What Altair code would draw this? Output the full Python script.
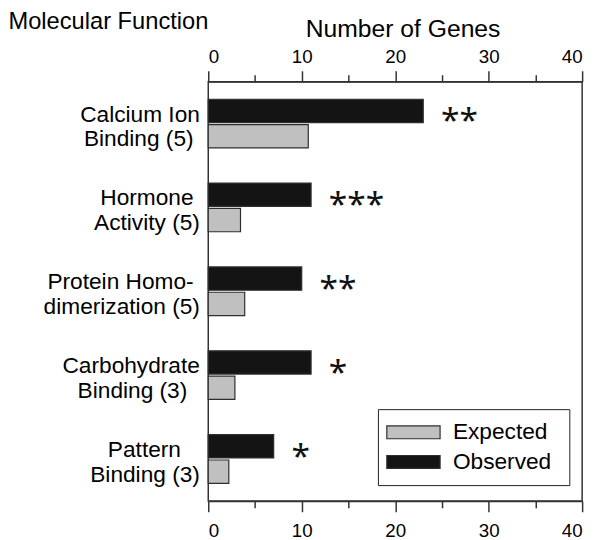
import json
import altair as alt
import pandas as pd

# ---- data ----
categories = [
    "Calcium Ion\nBinding (5)",
    "Hormone\nActivity (5)",
    "Protein Homo-\ndimerization (5)",
    "Carbohydrate\nBinding (3)",
    "Pattern\nBinding (3)",
]
observed = [23, 11, 10, 11, 7]
expected = [10.7, 3.45, 3.9, 2.85, 2.2]
stars = ["**", "***", "**", "*", "*"]
series_names = ["Expected", "Observed"]
x_ticks = [0, 5, 10, 15, 20, 25, 30, 35, 40]

rows = []
for c, o, e in zip(categories, observed, expected):
    rows.append({"category": c, "series": "Observed", "genes": o})
    rows.append({"category": c, "series": "Expected", "genes": e})
bars_df = pd.DataFrame(rows)
stars_df = pd.DataFrame({"category": categories, "genes": observed, "stars": stars})

LINE = "#333333"
FONT = "Liberation Sans"

# style only: no-break spaces (kept from trimming by a zero-width space) that
# centre the two lines of each label on each other
line_pad = [(0, 1), (1, 0), (1, 0), (0, 2), (3, 0)]
NB = "\u00a0"
ZW = "\u200b"
expr_parts = []
for cat, (p1, p2) in zip(categories, line_pad):
    l1, l2 = cat.split("\n")
    s1 = l1 + (NB * p1 + ZW if p1 else "")
    s2 = l2 + (NB * p2 + ZW if p2 else "")
    expr_parts.append(f"datum.label === {json.dumps(cat)} ? [{json.dumps(s1)}, {json.dumps(s2)}]")
y_label_expr = " : ".join(expr_parts) + " : split(datum.label, '\\n')"

x_scale = alt.Scale(domain=[0, 40], nice=False, zero=True)
y_scale = alt.Scale(paddingInner=0.42, paddingOuter=0.21)
off_scale = alt.Scale(domain=["Observed", "Expected"], paddingInner=0.08, paddingOuter=0)
tick_size = {"condition": {"test": "datum.value % 10 === 0", "value": 11}, "value": 7}
label_expr = "datum.value % 10 === 0 ? datum.label : ''"

y_enc = alt.Y(
    "category:N", sort=categories, scale=y_scale,
    axis=alt.Axis(
        title="Molecular Function", titleAngle=0, titleAlign="left",
        titleBaseline="alphabetic", titleX=-203, titleY=-54, titleFontSize=24,
        titleFontWeight="normal", titleColor="black",
        labelExpr=y_label_expr, labelFontSize=23, labelLineHeight=25,
        labelAlign="right", labelBaseline="middle", labelPadding=9, labelOffset=-9,
        labelColor="black", labelLimit=400, ticks=False, domain=False, grid=False,
    ),
)

bars = alt.Chart(bars_df).mark_bar(stroke="#2e2e2e", strokeWidth=1.2).encode(
    x=alt.X("genes:Q", scale=x_scale, axis=alt.Axis(
        orient="bottom", values=x_ticks, labelExpr=label_expr, tickSize=tick_size,
        tickColor=LINE, tickWidth=1.5, domainColor=LINE, domainWidth=1.5,
        labelFontSize=19, labelColor="black", labelPadding=10, grid=False, title=None)),
    y=y_enc,
    yOffset=alt.YOffset("series:N", scale=off_scale),
    color=alt.Color("series:N",
                    scale=alt.Scale(domain=series_names, range=["#c0c0c0", "#141414"]),
                    legend=alt.Legend(
                        title=None, orient="none", legendX=172, legendY=332,
                        symbolType="M-1.26,-0.565H3.435V0.565H-1.26Z", symbolSize=529,
                        symbolStrokeColor="#2e2e2e", symbolStrokeWidth=1.2,
                        symbolOpacity=1, labelFontSize=23, labelOffset=40,
                        labelExpr="datum.label + '\u00a0\u200b'",
                        labelColor="black", padding=11, rowPadding=5,
                        strokeColor="#222222", fillColor="white")),
)

star_text = alt.Chart(stars_df).mark_text(
    align="left", baseline="alphabetic", dx=18, dy=9, fontSize=34,
    font="Noto Sans", color="#111111"
).encode(
    x=alt.X("genes:Q", scale=x_scale, axis=alt.Axis(
        orient="top", values=x_ticks, labelExpr=label_expr, tickSize=tick_size,
        tickColor=LINE, tickWidth=1.5, domainColor=LINE, domainWidth=1.5,
        labelFontSize=19, labelColor="black", labelPadding=4, grid=False,
        title="Number of Genes", titleFontSize=25, titleFontWeight="normal",
        titleColor="black", titleX=197, titleY=-46, titleBaseline="alphabetic",
        titleAlign="center")),
    y=alt.Y("category:N", sort=categories, scale=y_scale),
    text="stars:N",
)

chart = (
    alt.layer(bars, star_text)
    .resolve_axis(x="independent")
    .properties(width=379, height=425,
                autosize=alt.AutoSizeParams(type="none"),
                padding={"left": 203, "top": 71, "right": 10, "bottom": 36})
    .configure(font=FONT)
    .configure_view(stroke=LINE, strokeWidth=1.5)
)

chart.save("out.html", embed_options={"renderer": "svg", "actions": False})
